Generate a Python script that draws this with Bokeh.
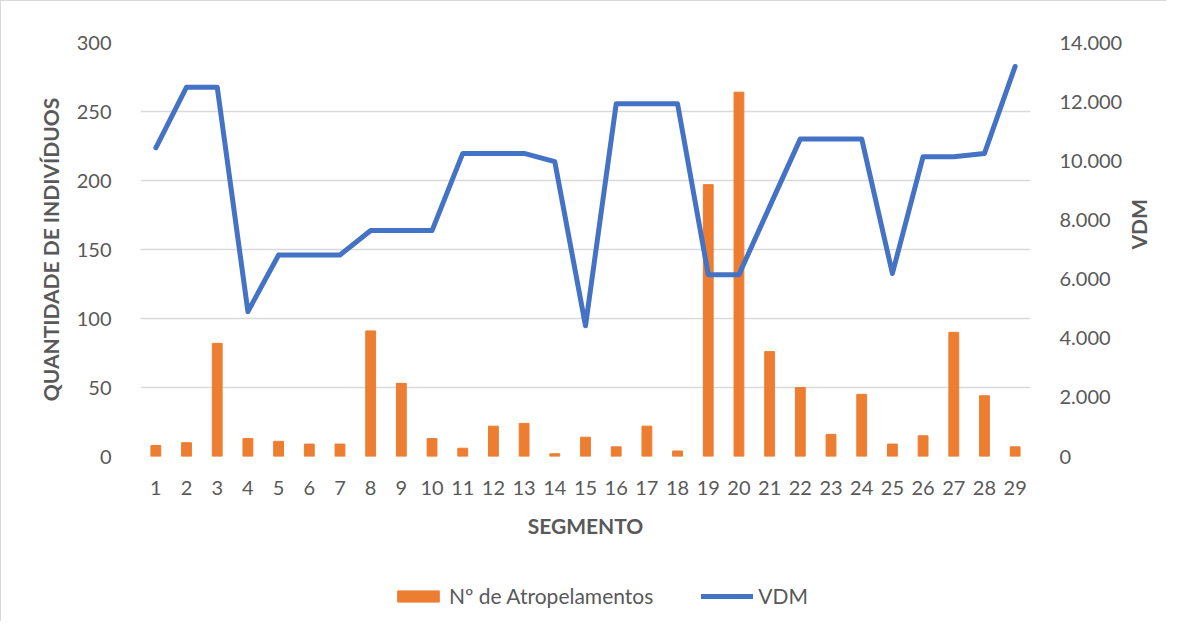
import math
from bokeh.plotting import figure
from bokeh.layouts import column
from bokeh.models import (FactorRange, Range1d, LinearAxis, FixedTicker,
                          CustomJSTickFormatter, Legend, LegendItem, ColumnDataSource)
from bokeh.embed import file_html
from bokeh.resources import INLINE

segmentos = [str(i) for i in range(1, 30)]
atropelamentos = [8, 10, 82, 13, 11, 9, 9, 91, 53, 13, 6, 22, 24, 2, 14,
                  7, 22, 4, 197, 264, 76, 50, 16, 45, 9, 15, 90, 44, 7]
vdm = [10440, 12490, 12490, 4900, 6815, 6815, 6815, 7640, 7640, 7640,
       10250, 10250, 10250, 9970, 4420, 11925, 11925, 11925, 6150, 6150,
       8450, 10740, 10740, 10740, 6190, 10140, 10140, 10250, 13190]
left_ticks = [0, 50, 100, 150, 200, 250, 300]
right_ticks = [0, 2000, 4000, 6000, 8000, 10000, 12000, 14000]
series_names = ["Nº de Atropelamentos", "VDM"]

FONT = "Lato"
GRAY = "#595959"
ORANGE = "#ED7D31"
BLUE = "#4472C4"

src = ColumnDataSource(dict(seg=segmentos, atr=atropelamentos, vdm=vdm))

p = figure(width=1165, height=560, output_backend="svg", toolbar_location=None,
           x_range=FactorRange(*segmentos),
           y_range=Range1d(0, 300),
           min_border_left=139, min_border_right=134,
           min_border_top=41, min_border_bottom=105)
p.x_range.range_padding = 0
p.extra_y_ranges = {"vdm": Range1d(0, 14000)}
p.outline_line_color = None
p.background_fill_color = "white"
p.border_fill_color = "white"

p.vbar(x="seg", top="atr", width=0.32, source=src, color=ORANGE)
p.line(x="seg", y="vdm", source=src, y_range_name="vdm",
       line_color=BLUE, line_width=5, line_join="round", line_cap="round")

p.xgrid.grid_line_color = None
p.ygrid.grid_line_color = "#d9d9d9"
p.ygrid.grid_line_width = 1.5

p.yaxis.ticker = FixedTicker(ticks=left_ticks)
p.yaxis.axis_label = "QUANTIDADE DE INDIVÍDUOS"

right_axis = LinearAxis(y_range_name="vdm", ticker=FixedTicker(ticks=right_ticks),
                        axis_label="VDM",
                        formatter=CustomJSTickFormatter(code="""
return tick.toFixed(0).replace(/\\B(?=(\\d{3})+(?!\\d))/g, '.');
"""))
p.add_layout(right_axis, "right")
p.xaxis.axis_label = "SEGMENTO"

for ax in [p.xaxis[0], p.yaxis[0], right_axis]:
    ax.axis_line_color = None
    ax.major_tick_line_color = None
    ax.minor_tick_line_color = None
    ax.major_label_text_font = FONT
    ax.major_label_text_font_size = "20px"
    ax.major_label_text_color = GRAY
    ax.axis_label_text_font = FONT
    ax.axis_label_text_font_size = "21px"
    ax.axis_label_text_font_style = "bold"
    ax.axis_label_text_color = GRAY

p.yaxis[0].major_label_standoff = 23
p.yaxis[0].axis_label_standoff = 11
right_axis.major_label_standoff = 23
right_axis.axis_label_standoff = 13
right_axis.axis_label_orientation = math.pi / 2
p.xaxis[0].major_label_standoff = 18
p.xaxis[0].axis_label_standoff = 15

# legend strip: same data, drawn below its visible range, only for legend glyphs
q = figure(width=1165, height=60, output_backend="svg", toolbar_location=None,
           x_range=FactorRange(*segmentos), y_range=Range1d(600, 900),
           x_axis_location=None, y_axis_location=None,
           min_border_left=0, min_border_right=0,
           min_border_top=0, min_border_bottom=0)
q.x_range.range_padding = 0
q.grid.visible = False
q.outline_line_color = None
q.background_fill_color = "white"
q.extra_y_ranges = {"vdm": Range1d(30000, 40000)}
lb = q.vbar(x="seg", top="atr", width=0.32, source=src, color=ORANGE)
ll = q.line(x="seg", y="vdm", source=src, y_range_name="vdm",
            line_color=BLUE, line_width=5, line_cap="round")
legend = Legend(items=[LegendItem(label=series_names[0], renderers=[lb]),
                       LegendItem(label=series_names[1], renderers=[ll])],
                orientation="horizontal", location=(252, 13),
                glyph_width=52, glyph_height=14, spacing=48,
                label_text_font=FONT, label_text_font_size="21px",
                label_text_color=GRAY, border_line_color=None,
                background_fill_alpha=0, margin=0, padding=4)
q.add_layout(legend, "center")

layout = column(p, q, spacing=0)
layout.styles = {"border-left": "1px solid #d9d9d9", "border-top": "1px solid #d9d9d9"}

open("out.html", "w").write(file_html(layout, INLINE))
